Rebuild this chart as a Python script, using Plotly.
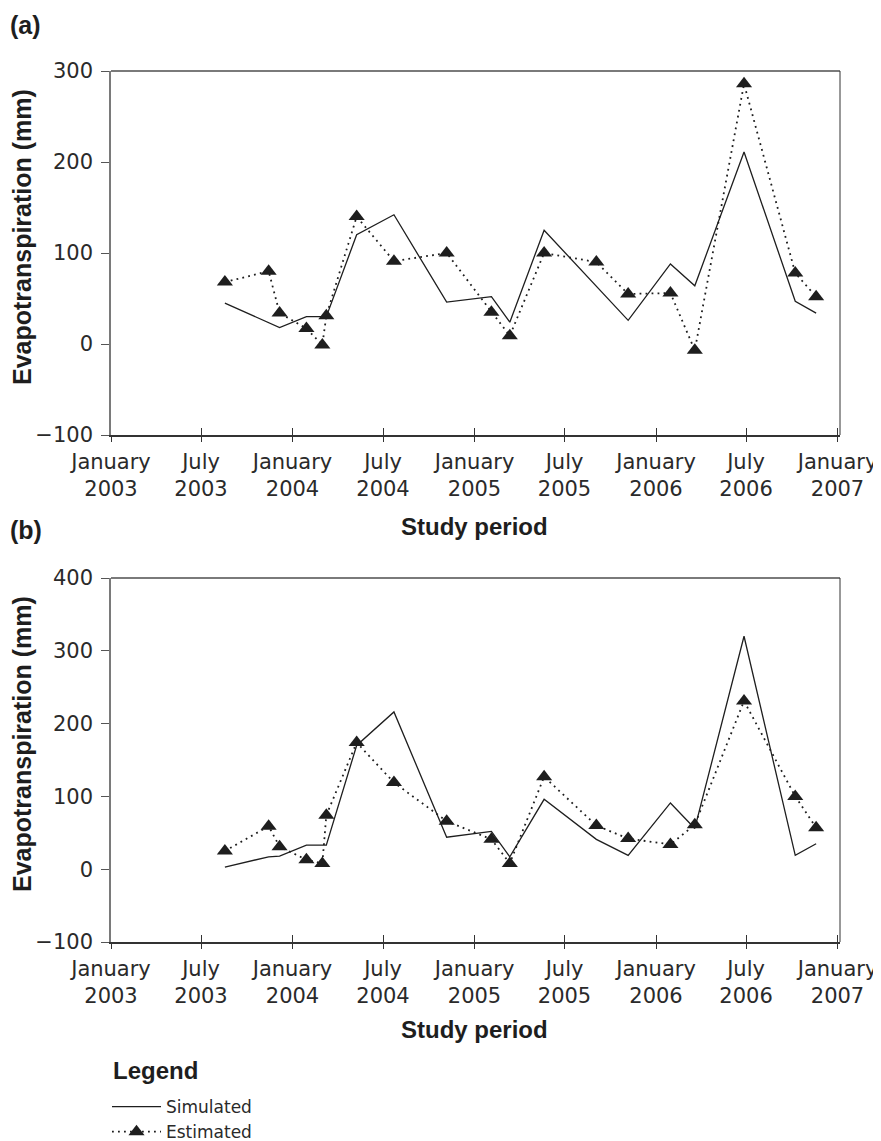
import plotly.graph_objects as go

# ---------------- data ----------------
est_dates = ["2003-08-18", "2003-11-14", "2003-12-06", "2004-01-29", "2004-03-01",
             "2004-03-09", "2004-05-09", "2004-07-23", "2004-11-06", "2005-02-04",
             "2005-03-13", "2005-05-21", "2005-09-03", "2005-11-06", "2006-01-30",
             "2006-03-20", "2006-06-27", "2006-10-08", "2006-11-19"]

est_a = [68, 80, 34, 17, -1, 31, 140, 91, 100, 35, 9, 100, 90, 55, 56, -7, 286, 78, 52]
sim_dates_a = ["2003-08-18", "2003-12-06", "2004-01-29", "2004-03-09", "2004-05-09",
               "2004-07-23", "2004-11-06", "2005-02-04", "2005-03-13", "2005-05-21",
               "2005-11-06", "2006-01-30", "2006-03-20", "2006-06-27", "2006-10-08",
               "2006-11-19"]
sim_a = [45, 18, 30, 30, 120, 142, 46, 52, 24, 125, 26, 88, 64, 211, 47, 34]

est_b = [25, 59, 31, 13, 8, 74, 174, 119, 66, 41, 8, 127, 60, 42, 34, 61, 231, 100, 57]
sim_dates_b = ["2003-08-18", "2003-11-14", "2003-12-06", "2004-01-29", "2004-03-09",
               "2004-05-09", "2004-07-23", "2004-11-06", "2005-02-04", "2005-03-13",
               "2005-05-21", "2005-09-03", "2005-11-06", "2006-01-30", "2006-03-20",
               "2006-06-27", "2006-10-08", "2006-11-19"]
sim_b = [3, 17, 18, 33, 33, 170, 216, 44, 52, 17, 96, 41, 19, 91, 56, 320, 19, 35]

tick_dates = ["2003-01-01", "2003-07-01", "2004-01-01", "2004-07-01", "2005-01-01",
              "2005-07-01", "2006-01-01", "2006-07-01", "2007-01-01"]
tick_labels = ["January<br>2003", "July<br>2003", "January<br>2004", "July<br>2004",
               "January<br>2005", "July<br>2005", "January<br>2006", "July<br>2006",
               "January<br>2007"]
yticks_a = [-100, 0, 100, 200, 300]
yticks_b = [-100, 0, 100, 200, 300, 400]

# ---------------- style ----------------
OFF = 8                     # page body margin of the html page
W, H = 881 - OFF, 1141 - OFF
INK = "#1e1e1e"
TICKFONT = dict(family="DejaVu Sans", size=21, color="#2a2a2a")
BOLD = "Liberation Sans"


def PX(x):                  # screen px -> paper x
    return (x - OFF) / W


def PY(y):                  # screen px -> paper y
    return 1 - (y - OFF) / H


x0, x1 = PX(111), PX(840)


def ydom(top_px, bot_px):
    return [PY(bot_px), PY(top_px)]


fig = go.Figure()

for i, (est, sdates, sim, xa, ya) in enumerate([
        (est_a, sim_dates_a, sim_a, "x", "y"),
        (est_b, sim_dates_b, sim_b, "x2", "y2")]):
    fig.add_trace(go.Scatter(
        x=sdates, y=sim, mode="lines", name="Simulated",
        line=dict(color=INK, width=1.3), xaxis=xa, yaxis=ya,
        showlegend=(i == 1), legendrank=1))
    fig.add_trace(go.Scatter(
        x=est_dates, y=est, mode="lines+markers", name="Estimated",
        line=dict(color=INK, width=1.8, dash="1.8px,4.2px"),
        marker=dict(symbol="triangle-up", size=14, color=INK),
        xaxis=xa, yaxis=ya, showlegend=(i == 1), legendrank=2))

# empty traces so inner tick overlay axes are drawn
fig.add_trace(go.Scatter(x=[], y=[], xaxis="x3", yaxis="y", showlegend=False, hoverinfo="skip"))
fig.add_trace(go.Scatter(x=[], y=[], xaxis="x4", yaxis="y2", showlegend=False, hoverinfo="skip"))

xrange = ["2003-01-01", "2007-01-06"]
xcommon = dict(type="date", range=xrange, domain=[x0, x1], tickvals=tick_dates,
               showgrid=False, zeroline=False, fixedrange=True, automargin=False)

ycommon = dict(showline=True, linecolor="#7a7a7a", linewidth=1.6,
               ticks="outside", ticklen=8, tickwidth=1.2, tickcolor="#555555",
               showgrid=False, zeroline=False, fixedrange=True, automargin=False,
               ticklabelstandoff=4, tickfont=TICKFONT)

fig.update_layout(
    width=W, height=H, autosize=False,
    margin=dict(l=0, r=0, t=0, b=0, autoexpand=False),
    paper_bgcolor="white", plot_bgcolor="white",
    font=dict(family="DejaVu Sans", color=INK),
    xaxis=dict(**xcommon, anchor="y", ticktext=tick_labels, tickfont=TICKFONT,
               showline=True, linecolor="#333333", linewidth=1.5,
               ticks="outside", ticklen=5, tickwidth=1.2, tickcolor="#333333",
               ticklabelstandoff=2),
    xaxis2=dict(**xcommon, anchor="y2", ticktext=tick_labels, tickfont=TICKFONT,
                showline=True, linecolor="#333333", linewidth=1.5,
                ticks="outside", ticklen=5, tickwidth=1.2, tickcolor="#333333",
                ticklabelstandoff=2),
    xaxis3=dict(**xcommon, anchor="y", overlaying="x", matches="x", showticklabels=False,
                ticks="inside", ticklen=7, tickwidth=1.2, tickcolor="#333333"),
    xaxis4=dict(**xcommon, anchor="y2", overlaying="x2", matches="x2", showticklabels=False,
                ticks="inside", ticklen=7, tickwidth=1.2, tickcolor="#333333"),
    yaxis=dict(**ycommon, domain=ydom(71, 435), range=[-100, 300], tickvals=yticks_a,
               ticktext=["\u2212100", "0", "100", "200", "300"], anchor="x"),
    yaxis2=dict(**ycommon, domain=ydom(578, 942), range=[-100, 400], tickvals=yticks_b,
                ticktext=["\u2212100", "0", "100", "200", "300", "400"], anchor="x2"),
    legend=dict(x=PX(107), y=PY(1089), xanchor="left", yanchor="top",
                font=dict(family="DejaVu Sans", size=17, color="#2a2a2a"),
                bgcolor="rgba(0,0,0,0)", tracegroupgap=0, itemwidth=49,
                traceorder="normal"),
    showlegend=True,
)

# top and right frame edges
for xr, yr in [("x domain", "y domain"), ("x2 domain", "y2 domain")]:
    fig.add_shape(type="line", xref=xr, yref=yr, x0=0, x1=1, y0=1, y1=1,
                  line=dict(color="#7a7a7a", width=2))
    fig.add_shape(type="line", xref=xr, yref=yr, x0=1, x1=1, y0=0, y1=1,
                  line=dict(color="#333333", width=1))

ann = []
ann.append(dict(text="<b>(a)</b>", x=PX(8), y=PY(25), xanchor="left", yanchor="middle",
                font=dict(family=BOLD, size=25, color=INK)))
ann.append(dict(text="<b>(b)</b>", x=PX(8), y=PY(530), xanchor="left", yanchor="middle",
                font=dict(family=BOLD, size=25, color=INK)))
for yc in (237, 744):
    ann.append(dict(text="<b>Evapotranspiration (mm)</b>", x=PX(22), y=PY(yc),
                    xanchor="center", yanchor="middle", textangle=-90,
                    font=dict(family=BOLD, size=25, color=INK)))
for yc in (526, 1029):
    ann.append(dict(text="<b>Study period</b>", x=PX(474), y=PY(yc),
                    xanchor="center", yanchor="middle",
                    font=dict(family=BOLD, size=24, color=INK)))
ann.append(dict(text="<b>Legend</b>", x=PX(111), y=PY(1070), xanchor="left",
                yanchor="middle", font=dict(family=BOLD, size=24, color=INK)))
for a in ann:
    a.update(xref="paper", yref="paper", showarrow=False)
fig.update_layout(annotations=ann)

fig.write_html("out.html")
